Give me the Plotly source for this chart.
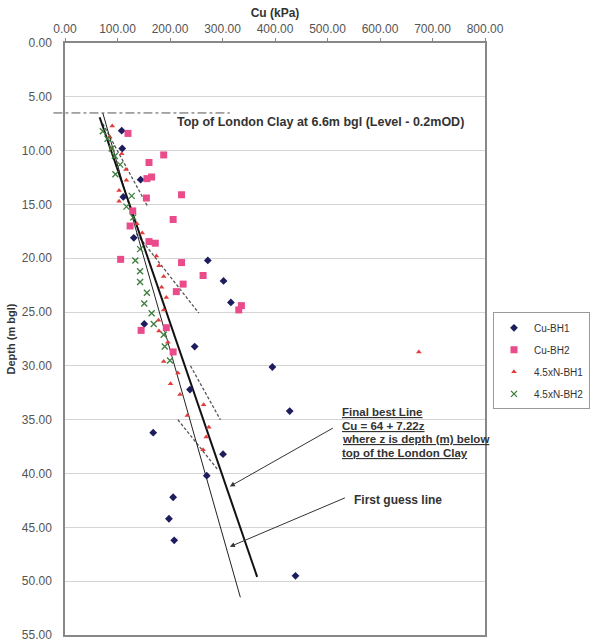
import plotly.graph_objects as go

# ---------------- data (Cu in kPa, depth in m bgl) ----------------
bh1_cu = [108, 109, 144, 111, 131, 272, 302, 316, 151, 247, 395, 238, 428, 168, 301, 270, 206, 198, 208, 439]
bh1_depth = [8.15, 9.8, 12.7, 14.3, 18.1, 20.2, 22.1, 24.1, 26.1, 28.2, 30.1, 32.2, 34.2, 36.2, 38.2, 40.2, 42.2, 44.2, 46.2, 49.5]

bh2_cu = [120, 188, 160, 156, 165, 155, 222, 206, 129, 124, 160, 172, 106, 222, 263, 225, 212, 336, 331, 145, 193, 206]
bh2_depth = [8.4, 10.4, 11.1, 12.6, 12.45, 14.4, 14.1, 16.4, 15.6, 17.0, 18.45, 18.6, 20.1, 20.4, 21.6, 22.4, 23.1, 24.4, 24.8, 26.7, 26.45, 28.7]

nbh1_cu = [90, 85, 89, 108, 116, 117, 103, 103, 137, 147, 174, 179, 188, 184, 193, 188, 178, 179, 196, 188, 215, 201, 219, 264, 233, 274, 269, 263, 674]
nbh1_depth = [7.7, 8.7, 9.8, 10.3, 11.75, 12.75, 13.7, 14.7, 16.8, 17.65, 19.8, 20.7, 21.7, 22.7, 23.65, 24.8, 25.75, 26.75, 27.8, 29.6, 30.65, 31.65, 32.65, 33.6, 34.6, 35.7, 36.6, 37.8, 28.7]

nbh2_cu = [72, 81, 89, 95, 105, 96, 127, 117, 130, 143, 134, 143, 143, 156, 151, 165, 169, 188, 190, 200]
nbh2_depth = [8.2, 8.9, 9.8, 10.5, 11.3, 12.2, 14.2, 15.2, 16.2, 19.15, 20.2, 21.2, 22.2, 23.2, 24.2, 25.1, 26.1, 27.1, 28.2, 29.5]

best_line_cu = [66, 366]
best_line_depth = [6.9, 49.6]
guess_line_cu = [72, 334]
guess_line_depth = [6.5, 51.5]

bound_cu = [[72, 157], [136, 255], [239, 296], [215, 292]]
bound_depth = [[7.5, 15.15], [17.7, 25.1], [30.0, 35.0], [35.0, 39.7]]

clay_top_depth = 6.5
clay_line_cu = [-22, 314]

x_ticks = [0, 100, 200, 300, 400, 500, 600, 700, 800]
y_ticks = [0, 5, 10, 15, 20, 25, 30, 35, 40, 45, 50, 55]

X_MAX = 800
Y_MAX = 55

FONT = "Liberation Sans, Arial, sans-serif"
TXT = "#333333"

fig = go.Figure()

# fitted / guide lines
for cu, d in zip(bound_cu, bound_depth):
    fig.add_trace(go.Scatter(x=cu, y=d, mode="lines", showlegend=False, hoverinfo="skip",
                             line=dict(color="#555555", width=1.3, dash="3px,2px")))
fig.add_trace(go.Scatter(x=guess_line_cu, y=guess_line_depth, mode="lines", showlegend=False,
                         hoverinfo="skip", line=dict(color="#222222", width=1)))
fig.add_trace(go.Scatter(x=best_line_cu, y=best_line_depth, mode="lines", showlegend=False,
                         hoverinfo="skip", line=dict(color="#111111", width=2)))

# data series
fig.add_trace(go.Scatter(x=bh1_cu, y=bh1_depth, mode="markers", name="Cu-BH1", legendgroup="a",
                         marker=dict(symbol="diamond", size=6, color="#1d1d5e")))
fig.add_trace(go.Scatter(x=bh2_cu, y=bh2_depth, mode="markers", name="Cu-BH2", legendgroup="b",
                         marker=dict(symbol="square", size=7, color="#ea4b8b")))
fig.add_trace(go.Scatter(x=nbh1_cu, y=nbh1_depth, mode="markers", name="4.5xN-BH1", legendgroup="c",
                         marker=dict(symbol="triangle-up", size=5, color="#e23c3c")))
fig.add_trace(go.Scatter(x=nbh2_cu, y=nbh2_depth, mode="markers", name="4.5xN-BH2", legendgroup="d",
                         marker=dict(symbol="x-thin", size=6, color="#3b7d3b",
                                     line=dict(color="#3b7d3b", width=1.3))))

# top of London Clay dash-dot line (extends left of the axis)
fig.add_shape(type="line", xref="paper", yref="paper",
              x0=clay_line_cu[0] / X_MAX, x1=clay_line_cu[1] / X_MAX,
              y0=1 - clay_top_depth / Y_MAX, y1=1 - clay_top_depth / Y_MAX,
              line=dict(color="#555555", width=1, dash="dashdot"))

annos = []
annos.append(dict(x=487, y=7.3, xref="x", yref="y", showarrow=False,
                  text="<b>Top of London Clay at 6.6m bgl (Level - 0.2mOD)</b>",
                  font=dict(size=12.5, color=TXT, family=FONT), xanchor="center", yanchor="middle"))

best_text = ["Final best Line", "Cu = 64 + 7.22z", "where z is depth (m) below", "top of the London Clay"]
best_y = [34.3, 35.55, 36.8, 38.05]
for t, yy in zip(best_text, best_y):
    annos.append(dict(x=523, y=yy, xref="x", yref="y", showarrow=False,
                      text="<b><u>" + t + "</u></b>", xanchor="left", yanchor="middle",
                      font=dict(size=11.5, color=TXT, family=FONT)))
annos.append(dict(x=546, y=42.5, xref="x", yref="y", showarrow=False, text="<b>First guess line</b>",
                  xanchor="left", yanchor="middle", font=dict(size=12, color=TXT, family=FONT)))

# arrows
annos.append(dict(x=314, y=41.2, ax=513, ay=35.7, xref="x", yref="y", axref="x", ayref="y",
                  text="", showarrow=True, arrowhead=2, arrowsize=1, arrowwidth=1, arrowcolor="#333333"))
annos.append(dict(x=314, y=46.8, ax=536, ay=42.2, xref="x", yref="y", axref="x", ayref="y",
                  text="", showarrow=True, arrowhead=2, arrowsize=1, arrowwidth=1, arrowcolor="#333333"))

fig.update_layout(
    width=598, height=641,
    margin=dict(l=65, r=113, t=43, b=6, autoexpand=False),
    paper_bgcolor="white", plot_bgcolor="white",
    font=dict(family=FONT, size=12, color="#555555"),
    annotations=annos,
    legend=dict(x=1.25, y=0.545, xanchor="right", yanchor="top",
                bordercolor="#999999", borderwidth=1, bgcolor="white",
                font=dict(size=10, color=TXT, family=FONT),
                traceorder="grouped", tracegroupgap=3, itemwidth=30),
)

fig.update_xaxes(side="top", range=[0, X_MAX], tickvals=x_ticks, tickformat=".2f",
                 showgrid=False, zeroline=False, showline=True, linecolor="#888888", linewidth=1.5,
                 mirror=True, ticks="outside", ticklen=3, tickcolor="#888888",
                 tickfont=dict(size=12, color="#555555"), ticklabeloverflow="allow",
                 title=dict(text="<b>Cu (kPa)</b>", font=dict(size=12, color=TXT), standoff=2))
fig.update_yaxes(range=[Y_MAX, 0], tickvals=y_ticks, tickformat=".2f",
                 showgrid=True, gridcolor="#d4d4d4", gridwidth=1, zeroline=False,
                 showline=True, linecolor="#888888", linewidth=1.5, mirror=True,
                 ticks="", ticklabelstandoff=9, ticklabeloverflow="allow",
                 tickfont=dict(size=12, color="#555555"),
                 title=dict(text="<b>Depth (m bgl)</b>", font=dict(size=11, color=TXT), standoff=4))

fig.write_html("out.html")
